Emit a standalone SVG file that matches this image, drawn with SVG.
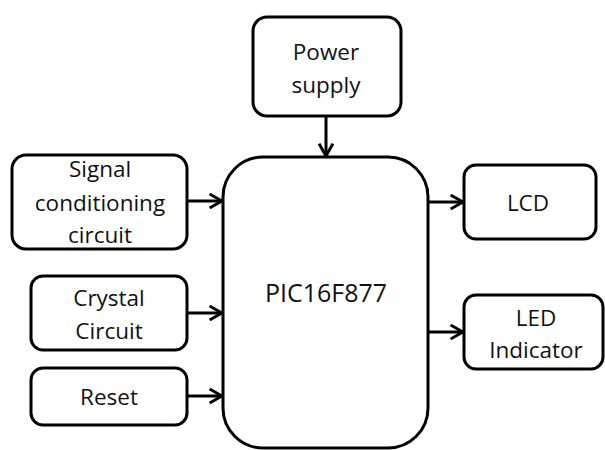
<svg xmlns="http://www.w3.org/2000/svg" width="605" height="450" viewBox="0 0 605 450">
<style>
.box{fill:#fff;stroke:#000;stroke-width:3}
.t{font-family:"Open Sans","Liberation Sans",sans-serif;font-size:22.5px;fill:#111;text-anchor:middle}
.c{stroke:#000;stroke-width:3;fill:none;marker-end:url(#ah)}
</style>
<defs>
<marker id="ah" viewBox="0 0 10 10" refX="9" refY="5" markerWidth="5.5" markerHeight="5.5" markerUnits="strokeWidth" orient="auto">
<path d="M1.5,0.8 L9,5 L1.5,9.2" fill="none" stroke="#000" stroke-width="1.8"/>
</marker>
</defs>
<rect width="605" height="450" fill="#fff"/>
<g id="connectors">
<line class="c" x1="326" y1="116" x2="326" y2="156"/>
<line class="c" x1="187" y1="201" x2="222" y2="201"/>
<line class="c" x1="187" y1="313" x2="222" y2="313"/>
<line class="c" x1="187" y1="396" x2="222" y2="396"/>
<line class="c" x1="428" y1="202" x2="463" y2="202"/>
<line class="c" x1="428" y1="332" x2="463" y2="332"/>
</g>
<g id="power">
<rect class="box" x="253" y="17" width="148" height="99" rx="14"/>
<text class="t" x="326" y="60">Power</text>
<text class="t" x="326" y="93">supply</text>
</g>
<g id="pic">
<rect class="box" x="223" y="157" width="205" height="291" rx="40"/>
<text class="t" x="326" y="302" style="font-size:25px">PIC16F877</text>
</g>
<g id="signal">
<rect class="box" x="12" y="155" width="175" height="94" rx="14"/>
<text class="t" x="100" y="177">Signal</text>
<text class="t" x="100" y="211">conditioning</text>
<text class="t" x="100" y="243">circuit</text>
</g>
<g id="crystal">
<rect class="box" x="31" y="276" width="156" height="74" rx="12"/>
<text class="t" x="109" y="306">Crystal</text>
<text class="t" x="109" y="339">Circuit</text>
</g>
<g id="reset">
<rect class="box" x="31" y="368" width="156" height="57" rx="12"/>
<text class="t" x="109" y="405">Reset</text>
</g>
<g id="lcd">
<rect class="box" x="464" y="165" width="132" height="74" rx="12"/>
<text class="t" x="528" y="211">LCD</text>
</g>
<g id="led">
<rect class="box" x="464" y="295" width="139" height="74" rx="12"/>
<text class="t" x="536" y="326">LED</text>
<text class="t" x="536" y="358">Indicator</text>
</g>
</svg>
